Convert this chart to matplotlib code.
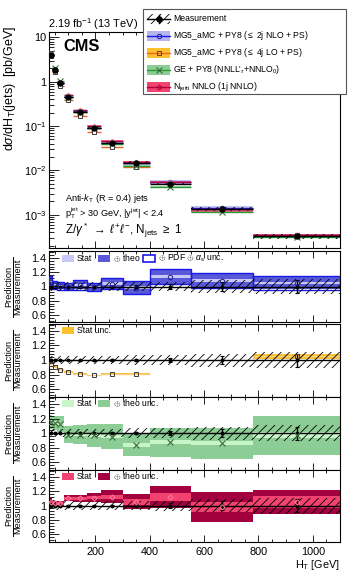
import numpy as np
import matplotlib
matplotlib.use('Agg')
import matplotlib.pyplot as plt
from matplotlib.patches import Rectangle
from matplotlib.ticker import MultipleLocator, FixedLocator, FixedFormatter, NullFormatter, LogLocator

plt.rcParams['font.family'] = ['Liberation Sans', 'DejaVu Sans']
plt.rcParams['mathtext.fontset'] = 'custom'
plt.rcParams['mathtext.rm'] = 'Liberation Sans'
plt.rcParams['mathtext.it'] = 'Liberation Sans:italic'
plt.rcParams['mathtext.bf'] = 'Liberation Sans:bold'
plt.rcParams['mathtext.sf'] = 'Liberation Sans'
plt.rcParams['hatch.linewidth'] = 0.6
plt.rcParams['hatch.color'] = 'black'

# ---------------- data ----------------
ht_edges = [30, 41, 59, 83, 118, 168, 220, 300, 400, 550, 780, 1100]
meas_xsec = [3.95, 1.81, 0.92, 0.455, 0.209, 0.0925, 0.0408, 0.0150, 0.0049, 0.00134, 0.000325]
meas_stat_rel = [0.004, 0.004, 0.004, 0.005, 0.006, 0.008, 0.012, 0.018, 0.03, 0.06, 0.09]
meas_tot_rel = [0.06, 0.06, 0.06, 0.06, 0.06, 0.06, 0.06, 0.065, 0.07, 0.09, 0.11]

ratio_nlo = [1.07, 1.02, 1.01, 1.00, 1.02, 0.99, 1.04, 0.985, 1.14, 1.08, 1.05]
nlo_stat = [0.02, 0.01, 0.01, 0.01, 0.01, 0.015, 0.02, 0.02, 0.02, 0.02, 0.02]
nlo_theo = [0.07, 0.05, 0.05, 0.05, 0.06, 0.055, 0.07, 0.085, 0.105, 0.10, 0.09]
nlo_pdf = [0.075, 0.055, 0.055, 0.055, 0.065, 0.06, 0.075, 0.09, 0.11, 0.105, 0.095]

ratio_lo = [0.95, 0.91, 0.865, 0.835, 0.81, 0.79, 0.81, 0.81, np.nan, np.nan, 1.05]
lo_stat = [0.01, 0.01, 0.01, 0.01, 0.01, 0.01, 0.01, 0.01, np.nan, np.nan, 0.03]

ratio_ge = [1.15, 1.14, 1.12, 0.98, 0.98, 0.97, 0.95, 0.84, 0.875, 0.86, 0.97]
ge_stat = [0.02, 0.02, 0.02, 0.02, 0.02, 0.02, 0.02, 0.03, 0.03, 0.03, 0.04]
ge_theo = [0.10, 0.10, 0.11, 0.12, 0.13, 0.155, 0.175, 0.16, 0.20, 0.21, 0.265]

ratio_nnlo = [1.05, 1.03, 1.03, 1.10, 1.10, 1.11, 1.12, 1.055, 1.12, 0.98, 1.05]
nnlo_stat = [0.02, 0.015, 0.015, 0.02, 0.02, 0.025, 0.03, 0.04, 0.05, 0.07, 0.08]
nnlo_theo = [0.06, 0.04, 0.04, 0.04, 0.045, 0.06, 0.09, 0.105, 0.15, 0.21, 0.17]

# ---------------- derived ----------------
edges = np.array(ht_edges, float)
cent = 0.5 * (edges[1:] + edges[:-1])
wid = edges[1:] - edges[:-1]
meas = np.array(meas_xsec)

W, H = 348, 571
fig = plt.figure(figsize=(W / 100, H / 100), dpi=100)

def pos(x0, y0, x1, y1):
    return [x0 / W, 1 - y1 / H, (x1 - x0) / W, (y1 - y0) / H]

XL, XR = 49.3, 340
ax_main = fig.add_axes(pos(XL, 32.3, XR, 247.7))
r1 = fig.add_axes(pos(XL, 251, XR, 322))
r2 = fig.add_axes(pos(XL, 323.5, XR, 396.7))
r3 = fig.add_axes(pos(XL, 396.7, XR, 469.5))
r4 = fig.add_axes(pos(XL, 469.5, XR, 541.7))

TFS = 7.8
HATCH = '////'

# colours
c_nlo_line = '#1a1ae6'; c_nlo_band = '#b4b4ee'; c_nlo_theo = '#5858d8'; c_nlo_stat = '#c8c8f6'
c_lo_line = '#f26522'; c_lo_band = '#fbc02d'; c_lo_rline = '#f8cf80'
c_ge_line = '#2a9a3a'; c_ge_theo = '#8ccd96'; c_ge_stat = '#c8f5c8'; c_ge_mk = '#3a6a3a'
c_nn_line = '#b0003a'; c_nn_theo = '#a3003f'; c_nn_stat = '#f2426f'; c_nn_mk = '#ff7b9a'

def style_x(ax, labels):
    ax.set_xlim(30, 1100)
    ax.xaxis.set_major_locator(MultipleLocator(200))
    ax.xaxis.set_minor_locator(MultipleLocator(50))
    ax.tick_params(axis='x', which='both', direction='in', top=True, bottom=True)
    ax.tick_params(axis='x', which='major', length=5, width=0.6)
    ax.tick_params(axis='x', which='minor', length=2.5, width=0.6)
    if labels:
        ax.tick_params(axis='x', labelsize=TFS, pad=3.5)
    else:
        ax.xaxis.set_major_formatter(NullFormatter())
    for s in ax.spines.values():
        s.set_linewidth(0.8)

# ---------------- main panel ----------------
ax = ax_main
ax.set_yscale('log')
ax.set_ylim(1.8e-4, 13)
style_x(ax, False)
ax.yaxis.set_major_locator(FixedLocator([1e-3, 1e-2, 1e-1, 1, 10]))
ax.yaxis.set_major_formatter(FixedFormatter(['$10^{-3}$', '$10^{-2}$', '$10^{-1}$', '1', '10']))
ax.yaxis.set_minor_locator(LogLocator(base=10, subs=np.arange(2, 10), numticks=20))
ax.yaxis.set_minor_formatter(NullFormatter())
ax.tick_params(axis='y', which='major', direction='in', length=7, width=0.6, labelsize=TFS, pad=2)
ax.tick_params(axis='y', which='minor', direction='in', length=3.5, width=0.6)

preds = [
    (np.array(ratio_nlo), np.array(nlo_theo), c_nlo_band, c_nlo_line, 'o', '#2020a0'),
    (np.array(ratio_lo), np.array(lo_stat), c_lo_band, c_lo_line, 's', '#3a3a3a'),
    (np.array(ratio_ge), np.array(ge_theo) * 0.25, c_ge_theo, c_ge_line, 'x', c_ge_mk),
    (np.array(ratio_nnlo), np.array(nnlo_theo) * 0.5, c_nn_stat, c_nn_line, 'D', c_nn_mk),
]
for r, e, cb, cl, mk, cm in preds:
    val = meas * r
    ax.bar(cent, 2 * val * e, bottom=val * (1 - e), width=wid, color=cb, alpha=0.8, linewidth=0, zorder=2)
    ax.hlines(val, edges[:-1], edges[1:], colors=cl, lw=1.0, zorder=3)
    if mk == 'x':
        ax.plot(cent, val, mk, ms=4, mec=cm, mew=0.8, zorder=4, ls='none')
    else:
        ax.plot(cent, val, mk, ms=3.2 if mk != 'D' else 2.4, mfc='white', mec=cm, mew=0.7, zorder=4, ls='none')

tot = np.array(meas_tot_rel)
ax.bar(cent, 2 * meas * tot, bottom=meas * (1 - tot), width=wid, facecolor='none', edgecolor='k',
       hatch=HATCH, linewidth=0, zorder=5)
ax.errorbar(cent, meas, xerr=wid / 2, yerr=meas * np.array(meas_stat_rel), fmt='o', ms=3.6,
            color='k', elinewidth=1.0, capsize=0, zorder=6)

ax.text(0.054, 0.228, r'Anti-$k_{\mathrm{T}}$ (R = 0.4) jets', transform=ax.transAxes, fontsize=6.6, va='center')
ax.text(0.054, 0.160, r'p$_{\mathrm{T}}^{\mathrm{jet}}$ > 30 GeV, |y$^{\mathrm{jet}}$| < 2.4',
        transform=ax.transAxes, fontsize=6.6, va='center')
ax.text(0.054, 0.078, r'Z/$\gamma^*$ $\rightarrow$ $\ell^{+}\ell^{-}$, N$_{\mathrm{jets}}$ $\geq$ 1',
        transform=ax.transAxes, fontsize=8.4, va='center')

# ---------------- ratio panels ----------------
def ratio_base(ax, last=False):
    ax.set_ylim(0.5, 1.5)
    style_x(ax, last)
    ax.yaxis.set_major_locator(FixedLocator([0.6, 0.8, 1.0, 1.2, 1.4]))
    ax.yaxis.set_major_formatter(FixedFormatter(['0.6', '0.8', '1', '1.2', '1.4']))
    ax.yaxis.set_minor_locator(MultipleLocator(0.04))
    ax.tick_params(axis='y', which='major', direction='in', length=7, width=0.6, labelsize=TFS, pad=2)
    ax.tick_params(axis='y', which='minor', direction='in', length=3.5, width=0.6)

def meas_overlay(ax):
    ax.bar(cent, 2 * tot, bottom=1 - tot, width=wid, facecolor='none', edgecolor='k',
           hatch=HATCH, linewidth=0, zorder=5)
    ax.axhline(1.0, color='k', lw=1.0, zorder=6)
    ax.errorbar(cent, np.ones_like(cent), yerr=np.array(meas_stat_rel), fmt='o', ms=1.8,
                color='k', elinewidth=1.0, capsize=1.2, capthick=0.8, zorder=7)

for a in (r1, r2, r3, r4):
    ratio_base(a, a is r4)

# r1: NLO
rn = np.array(ratio_nlo)
r1.bar(cent, 2 * np.array(nlo_theo), bottom=rn - np.array(nlo_theo), width=wid, color=c_nlo_theo, linewidth=0, zorder=1)
r1.bar(cent, 2 * np.array(nlo_stat), bottom=rn - np.array(nlo_stat), width=wid, color=c_nlo_stat, linewidth=0, zorder=2)
r1.bar(cent, 2 * np.array(nlo_pdf), bottom=rn - np.array(nlo_pdf), width=wid, facecolor='none',
       edgecolor=c_nlo_line, linewidth=1.0, zorder=3)
meas_overlay(r1)
r1.plot(cent, rn, 'o', ms=3.2, mfc='none', mec='#20208a', mew=0.7, zorder=8)

# r2: LO
rl = np.array(ratio_lo)
r2.bar(cent, 2 * np.array(lo_stat), bottom=rl - np.array(lo_stat), width=wid, color=c_lo_band, linewidth=0, zorder=1)
r2.hlines(rl, edges[:-1], edges[1:], colors=c_lo_rline, lw=1.0, zorder=2)
meas_overlay(r2)
r2.plot(cent, rl, 's', ms=3.2, mfc='none', mec='#3a3a3a', mew=0.7, zorder=8)

# r3: GE
rg = np.array(ratio_ge)
r3.bar(cent, 2 * np.array(ge_theo), bottom=rg - np.array(ge_theo), width=wid, color=c_ge_theo, linewidth=0, zorder=1)
r3.bar(cent, 2 * np.array(ge_stat), bottom=rg - np.array(ge_stat), width=wid, color=c_ge_stat, linewidth=0, zorder=2)
meas_overlay(r3)
r3.plot(cent, rg, 'x', ms=4, mec=c_ge_mk, mew=0.8, zorder=8)

# r4: NNLO
rj = np.array(ratio_nnlo)
r4.bar(cent, 2 * np.array(nnlo_theo), bottom=rj - np.array(nnlo_theo), width=wid, color=c_nn_theo, linewidth=0, zorder=1)
r4.bar(cent, 2 * np.array(nnlo_stat), bottom=rj - np.array(nnlo_stat), width=wid, color=c_nn_stat, linewidth=0, zorder=2)
meas_overlay(r4)
r4.plot(cent, rj, 'D', ms=2.6, mfc='none', mec=c_nn_mk, mew=0.7, zorder=8)

# ---------------- overlay (pixel coords) ----------------
ov = fig.add_axes([0, 0, 1, 1], zorder=20)
ov.set_xlim(0, W); ov.set_ylim(H, 0); ov.axis('off'); ov.patch.set_alpha(0)

# ratio-panel legends
def swatch(x, y, fc, ec=None, lw=0):
    ov.add_patch(Rectangle((x, y - 3.6), 12, 7.2, facecolor=fc, edgecolor=ec if ec else fc, linewidth=lw))

LFS = 6.2
y1 = 258.3
swatch(62, y1, c_nlo_stat); ov.text(77, y1, 'Stat', fontsize=LFS, va='center')
swatch(98, y1, c_nlo_theo); ov.text(113, y1, r'$\oplus$ theo', fontsize=LFS, va='center')
swatch(143, y1, 'white', c_nlo_line, 1.2); ov.text(158, y1, r'$\oplus$ PDF $\oplus$ $\alpha_{\mathrm{s}}$ unc.', fontsize=LFS, va='center')
y2 = 330.5
swatch(62, y2, c_lo_band); ov.text(77, y2, 'Stat unc.', fontsize=LFS, va='center')
y3 = 403.3
swatch(62, y3, c_ge_stat); ov.text(77, y3, 'Stat', fontsize=LFS, va='center')
swatch(98, y3, c_ge_theo); ov.text(113, y3, r'$\oplus$ theo unc.', fontsize=LFS, va='center')
y4 = 476.7
swatch(62, y4, c_nn_stat); ov.text(77, y4, 'Stat', fontsize=LFS, va='center')
swatch(98, y4, c_nn_theo); ov.text(113, y4, r'$\oplus$ theo unc.', fontsize=LFS, va='center')

# ratio y labels
for yc in (286.5, 360.0, 433.0, 505.6):
    ov.text(8.7, yc, 'Prediction', rotation=90, ha='center', va='center', fontsize=6.6)
    ov.plot([13.3, 13.3], [yc - 30, yc + 30], color='k', lw=0.7)
    ov.text(17.6, yc, 'Measurement', rotation=90, ha='center', va='center', fontsize=6.6)

# main y label
ov.text(10, 26, r'd$\sigma$/dH$_{\mathrm{T}}$(jets)  [pb/GeV]', rotation=90, ha='center', va='top', fontsize=9)
# x label
ov.text(340, 565, r'H$_{\mathrm{T}}$ [GeV]', ha='right', va='center', fontsize=TFS)
# lumi and CMS
ov.text(48, 24, r'2.19 fb$^{-1}$ (13 TeV)', ha='left', va='center', fontsize=7.9)
ov.text(63, 46.7, 'CMS', ha='left', va='center', fontsize=11.8, fontweight='bold')

# main legend
ov.add_patch(Rectangle((143.3, 9.3), 346 - 143.3, 85, facecolor='white', edgecolor='#555555', linewidth=0.8))
rows = [18.7, 35.5, 52.5, 70.0, 87.3]
hx0, hx1 = 147, 170
hxc = 0.5 * (hx0 + hx1)
# Measurement
ov.add_patch(Rectangle((hx0, rows[0] - 5), hx1 - hx0, 10, facecolor='none', edgecolor='k', hatch=HATCH, linewidth=0))
ov.plot([hx0, hx1], [rows[0], rows[0]], color='k', lw=1.0)
ov.plot([hxc, hxc], [rows[0] - 4, rows[0] + 4], color='k', lw=1.0)
ov.plot([hxc], [rows[0]], 'o', ms=3.6, color='k')
ov.text(173, rows[0], 'Measurement', fontsize=LFS, va='center')
leg_items = [
    (c_nlo_band, c_nlo_line, 'o', '#2020a0', r'MG5_aMC + PY8 ($\leq$ 2j NLO + PS)'),
    (c_lo_band, c_lo_line, 's', '#7a3a10', r'MG5_aMC + PY8 ($\leq$ 4j LO + PS)'),
    (c_ge_theo, c_ge_line, 'x', c_ge_mk, r"GE + PY8 (NNLL$'_{\tau}$+NNLO$_{0}$)"),
    (c_nn_stat, c_nn_line, 'D', c_nn_line, r'N$_{\mathrm{jetti}}$ NNLO (1j NNLO)'),
]
for (cb, cl, mk, cm, lab), yy in zip(leg_items, rows[1:]):
    ov.add_patch(Rectangle((hx0, yy - 5), hx1 - hx0, 10, facecolor=cb, edgecolor='none'))
    ov.plot([hx0, hx1], [yy, yy], color=cl, lw=1.0)
    if mk == 'x':
        ov.plot([hxc], [yy], mk, ms=4, mec=cm, mew=0.8)
    else:
        ov.plot([hxc], [yy], mk, ms=3.2 if mk != 'D' else 2.4, mfc='none', mec=cm, mew=0.7)
    ov.text(173, yy, lab, fontsize=LFS, va='center')

fig.savefig('out.png', dpi=100)
